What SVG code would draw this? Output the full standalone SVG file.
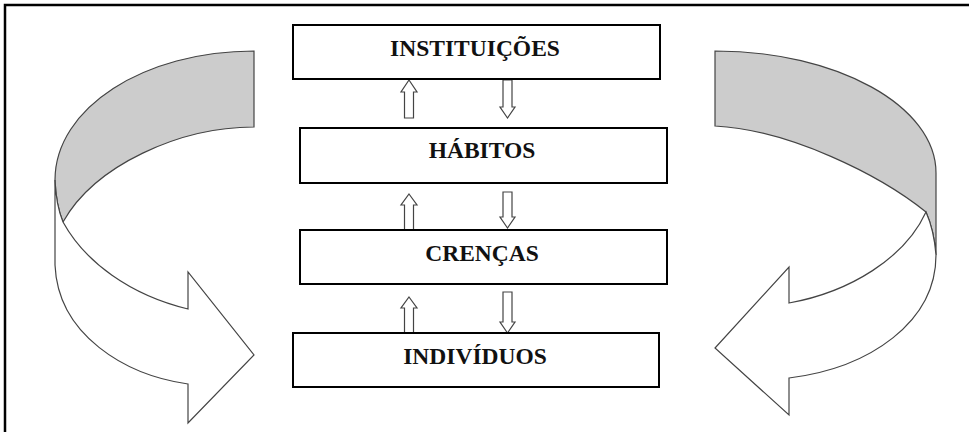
<svg xmlns="http://www.w3.org/2000/svg" width="969" height="432" viewBox="0 0 969 432">
<style>
.box{fill:#fff;stroke:#000;stroke-width:2}
.lbl{font-family:"Liberation Serif","Times New Roman",serif;font-weight:bold;font-size:23.5px;fill:#111;text-anchor:middle}
.band{fill:#cccccc;stroke:#444;stroke-width:1.2}
.ribbon{fill:#fff;stroke:#444;stroke-width:1.2}
.sm{fill:#fff;stroke:#444;stroke-width:1.2}
</style>
<rect width="969" height="432" fill="#fff"/>
<path d="M5,432 L5,5 L969,5" fill="none" stroke="#000" stroke-width="2.5"/>
<g id="left-cycle">
<path class="band" d="M254,51 C144,51 55,108 55,180 Q56,205 63,222 C95,165 180,127 254,127 Z"/>
<path class="ribbon" d="M55,180 L55,265 C58,335 125,375 188,384 L188,423 L254,355 L188,272 L188,309 C130,295 85,262 63,222 Q56,205 55,180 Z"/>
</g>
<g id="right-cycle">
<path class="band" d="M715,51 C837,51 936,106 936,173 L936,255 Q934,230 926,212 C880,175 790,130 715,126 Z"/>
<path class="ribbon" d="M926,212 Q934,230 936,255 C936,322 870,368 789,378 L789,415 L715,348 L789,267 L789,303 C850,292 905,258 926,212 Z"/>
</g>
<g id="connectors">
<polygon class="sm" points="409,80 417,92 413.5,92 413.5,118 404.5,118 404.5,92 401,92"/>
<polygon class="sm" points="503,80 512,80 512,107 515,107 507.5,118 500,107 503,107"/>
<polygon class="sm" points="409,194 417,205 413.5,205 413.5,230 404.5,230 404.5,205 401,205"/>
<polygon class="sm" points="503,192 512,192 512,217 515,217 507.5,228 500,217 503,217"/>
<polygon class="sm" points="409,297 417,308 413.5,308 413.5,333 404.5,333 404.5,308 401,308"/>
<polygon class="sm" points="503,292 512,292 512,322 515,322 507.5,333 500,322 503,322"/>
</g>
<g id="instituicoes">
<rect class="box" x="293" y="25" width="367" height="54"/>
<text class="lbl" x="475" y="56">INSTITUIÇÕES</text>
</g>
<g id="habitos">
<rect class="box" x="300" y="128" width="367" height="55"/>
<text class="lbl" x="482" y="158">HÁBITOS</text>
</g>
<g id="crencas">
<rect class="box" x="300" y="230" width="367" height="54"/>
<text class="lbl" x="482" y="261">CRENÇAS</text>
</g>
<g id="individuos">
<rect class="box" x="293" y="333" width="366" height="54"/>
<text class="lbl" x="475" y="364">INDIVÍDUOS</text>
</g>
</svg>
